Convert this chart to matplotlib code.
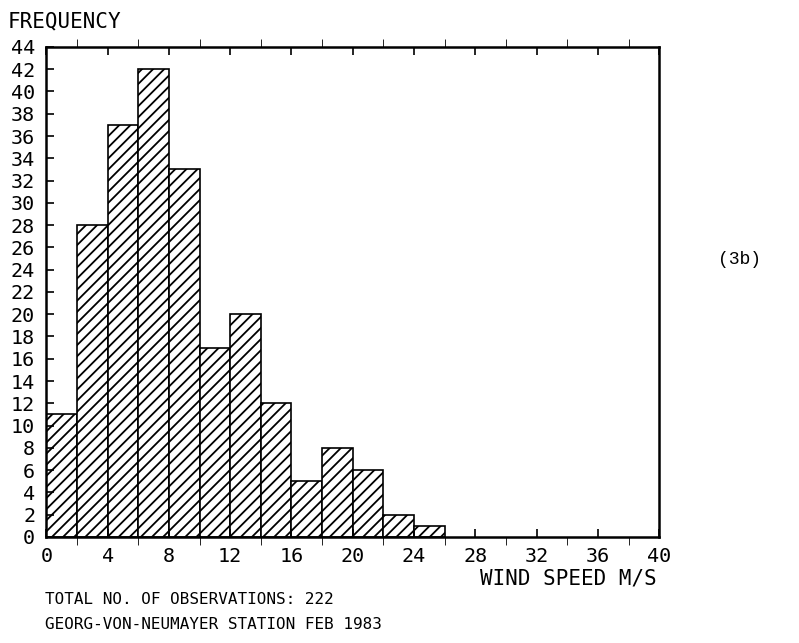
import numpy as np
import matplotlib
matplotlib.use("Agg")
import matplotlib.pyplot as plt

# wind speed histogram, bins of 2 m/s
bin_edges = [0, 2, 4, 6, 8, 10, 12, 14, 16, 18, 20, 22, 24, 26]
freq = [11, 28, 37, 42, 33, 17, 20, 12, 5, 8, 6, 2, 1]
total_obs = 222

plt.rcParams['font.family'] = ['DejaVu Sans Mono']
plt.rcParams['hatch.linewidth'] = 1.3

fig = plt.figure(figsize=(7.99, 6.43), dpi=100)
ax = fig.add_axes([0.058, 0.165, 0.767, 0.762])

lefts = bin_edges[:-1]
widths = np.diff(bin_edges)
ax.bar(lefts, freq, width=widths, align='edge', color='white',
       edgecolor='black', linewidth=1.2, hatch='///')

ax.set_xlim(0, 40)
ax.set_ylim(0, 44)
ax.set_xticks(range(0, 41, 4))
ax.set_xticks(range(0, 41, 2), minor=True)
ax.set_yticks(range(0, 45, 2))
ax.tick_params(axis='both', direction='in', labelsize=14.5, width=1.2)
ax.tick_params(axis='x', which='both', top=True, length=6)
ax.tick_params(axis='y', length=6, pad=8)
ax.tick_params(axis='x', pad=7)
for s in ax.spines.values():
    s.set_linewidth(1.8)

fig.text(0.01, 0.967, "FREQUENCY", fontsize=15, ha='left', va='center')
fig.text(0.822, 0.101, "WIND SPEED M/S", fontsize=15, ha='right', va='center')
fig.text(0.056, 0.067, "TOTAL NO. OF OBSERVATIONS: %d" % total_obs,
         fontsize=11.5, ha='left', va='center')
fig.text(0.056, 0.028, "GEORG-VON-NEUMAYER STATION FEB 1983",
         fontsize=11.5, ha='left', va='center')
fig.text(0.925, 0.597, "(3b)", fontsize=13, ha='center', va='center',
         family='Liberation Mono')

fig.savefig("out.png", dpi=100)
